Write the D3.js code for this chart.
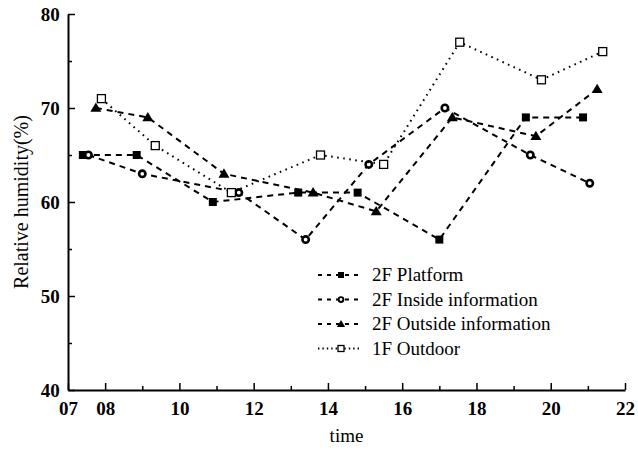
<!DOCTYPE html>
<html><head><meta charset="utf-8">
<script src="https://cdn.jsdelivr.net/npm/d3@7"></script>
<style>body{margin:0;background:#fff}svg{display:block}</style>
</head><body>
<script>
// Data (time in hours, relative humidity %)
const platformX = [7.4, 8.85, 10.9, 13.2, 14.8, 17.0, 19.33, 20.87];
const platformY = [65, 65, 60, 61, 61, 56, 69, 69];
const insideX = [7.55, 9.0, 11.6, 13.4, 15.1, 17.15, 19.45, 21.05];
const insideY = [65, 63, 61, 56, 64, 70, 65, 62];
const outsideX = [7.75, 9.15, 11.2, 13.6, 15.3, 17.35, 19.6, 21.25];
const outsideY = [70, 69, 63, 61, 59, 69, 67, 72];
const outdoorX = [7.9, 9.35, 11.4, 13.8, 15.5, 17.55, 19.75, 21.4];
const outdoorY = [71, 66, 61, 65, 64, 77, 73, 76];
const seriesNames = ["2F Platform", "2F Inside information", "2F Outside information", "1F Outdoor"];
const xTickValues = [7, 8, 10, 12, 14, 16, 18, 20, 22];
const xTickLabels = ["07", "08", "10", "12", "14", "16", "18", "20", "22"];
const xMinorTicks = [9, 11, 13, 15, 17, 19, 21];
const yTickValues = [40, 50, 60, 70, 80];
const yMinorTicks = [45, 55, 65, 75];

const W = 638, H = 451;
const m = {left: 68, right: 13, top: 14, bottom: 61};
const svg = d3.select("body").append("svg").attr("width", W).attr("height", H);
const x = d3.scaleLinear().domain([7, 22]).range([m.left, W - m.right]);
const y = d3.scaleLinear().domain([40, 80]).range([H - m.bottom, m.top]);

const font = "'Liberation Serif','Times New Roman',serif";

// Axes
const xAxis = svg.append("g").attr("transform", `translate(0,${y(40)})`)
  .call(d3.axisBottom(x).tickValues(xTickValues).tickFormat((d, i) => xTickLabels[i]).tickSizeInner(-7).tickSizeOuter(0).tickPadding(12));
svg.append("g").attr("transform", `translate(0,${y(40)})`)
  .call(d3.axisBottom(x).tickValues(xMinorTicks).tickFormat("").tickSizeInner(-4).tickSizeOuter(0))
  .select(".domain").remove();
const yAxis = svg.append("g").attr("transform", `translate(${x(7)},0)`)
  .call(d3.axisLeft(y).tickValues(yTickValues).tickSizeInner(-7).tickSizeOuter(0).tickPadding(12));
svg.append("g").attr("transform", `translate(${x(7)},0)`)
  .call(d3.axisLeft(y).tickValues(yMinorTicks).tickFormat("").tickSizeInner(-4).tickSizeOuter(0))
  .select(".domain").remove();
svg.selectAll(".domain").attr("stroke", "#000").attr("stroke-width", 2);
svg.selectAll(".tick line").attr("stroke", "#000").attr("stroke-width", 1.5);
svg.selectAll(".tick text").attr("font-family", font).attr("font-weight", "bold")
  .attr("font-size", 19).attr("fill", "#000");
yAxis.selectAll(".tick text").attr("dx", "0.2em");

// Axis titles
svg.append("text").attr("x", x(14.5)).attr("y", 442).attr("text-anchor", "middle")
  .attr("font-family", font).attr("font-size", 19).text("time");
svg.append("text").attr("transform", `translate(28,${y(60)}) rotate(-90)`)
  .attr("text-anchor", "middle").attr("font-family", font).attr("font-size", 20)
  .text("Relative humidity(%)");

const series = [
  {xs: platformX, ys: platformY, dash: "6,5", marker: "square"},
  {xs: insideX, ys: insideY, dash: "6,5", marker: "circle"},
  {xs: outsideX, ys: outsideY, dash: "6,5", marker: "triangle"},
  {xs: outdoorX, ys: outdoorY, dash: "1.6,4.5", marker: "opensquare"}
];

const line = d3.line().x(d => x(d[0])).y(d => y(d[1]));

function drawMarker(g, type, cx, cy, s) {
  if (type === "square") {
    g.append("rect").attr("x", cx - 4 * s).attr("y", cy - 4 * s).attr("width", 8 * s).attr("height", 8 * s).attr("fill", "#000");
  } else if (type === "circle") {
    g.append("circle").attr("cx", cx).attr("cy", cy).attr("r", 3.2 * s).attr("fill", "#fff").attr("stroke", "#000").attr("stroke-width", 2.6 * s);
  } else if (type === "triangle") {
    const r = 5.5 * s;
    g.append("path").attr("d", `M${cx},${cy - r}L${cx + r},${cy + r * 0.7}L${cx - r},${cy + r * 0.7}Z`).attr("fill", "#000");
  } else {
    g.append("rect").attr("x", cx - 4 * s).attr("y", cy - 4 * s).attr("width", 8 * s).attr("height", 8 * s).attr("fill", "#fff").attr("stroke", "#000").attr("stroke-width", 1.3);
  }
}

series.forEach(s => {
  const pts = s.xs.map((v, i) => [v, s.ys[i]]);
  svg.append("path").datum(pts).attr("d", line).attr("fill", "none")
    .attr("stroke", "#000").attr("stroke-width", 2).attr("stroke-dasharray", s.dash);
  const g = svg.append("g");
  pts.forEach(p => drawMarker(g, s.marker, x(p[0]), y(p[1]), 1));
});

// Legend
const lg = svg.append("g");
series.forEach((s, i) => {
  const ly = 275 + i * 24.5;
  lg.append("line").attr("x1", 318).attr("x2", 362).attr("y1", ly).attr("y2", ly)
    .attr("stroke", "#000").attr("stroke-width", 1.8).attr("stroke-dasharray", i < 3 ? "4,5" : "1.4,3");
  drawMarker(lg, s.marker, 341, ly, 0.75);
  lg.append("text").attr("x", 372).attr("y", ly + 6).attr("font-family", font)
    .attr("font-size", 19).attr("fill", "#000").text(seriesNames[i]);
});
</script>
</body></html>
